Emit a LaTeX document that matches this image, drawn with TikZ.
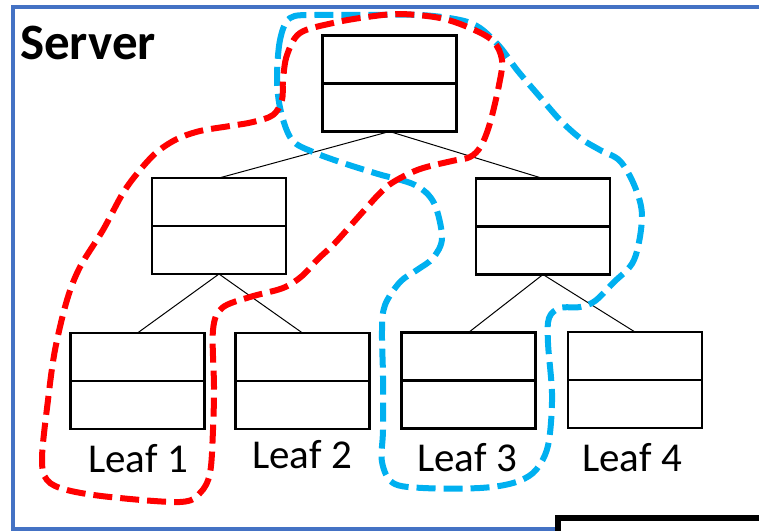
\documentclass[tikz,border=0pt]{standalone}
\usepackage{fontspec}
\setmainfont{Carlito}
\definecolor{framebl}{HTML}{4472C4}
\definecolor{grpred}{HTML}{FF0000}
\definecolor{grpblue}{HTML}{00B0F0}
\begin{document}
\begin{tikzpicture}[x=1pt,y=-1pt,
  rec/.style={draw, line width=2.3pt, minimum width=134pt, minimum height=96pt, inner sep=0pt, outer sep=0pt},
  link/.style={line width=1pt},
  leaflabel/.style={font=\fontsize{41}{41}\selectfont, inner sep=0pt, anchor=base},
  group/.style={line width=6pt, dash pattern=on 19pt off 8pt}]
\useasboundingbox (0,0) rectangle (759,530);
% server frame and neighbouring box
\draw[framebl, line width=4pt] (775,6.5) -- (12.5,6.5) -- (12.5,529) -- (560,529);
\draw[line width=6pt] (558,535) -- (558,518) -- (775,518);
\node[font=\fontsize{51}{51}\selectfont\bfseries, anchor=base west, inner sep=0pt] (srv) at (20,59) {Server};
% tree nodes
\node[rec] (root) at (389.5,83.5) {};
\node[rec] (ml) at (219,226) {};
\node[rec] (mr) at (543,226.5) {};
\node[rec] (l1) at (137.5,381) {};
\node[rec] (l2) at (302.5,381) {};
\node[rec] (l3) at (468.5,380.5) {};
\node[rec] (l4) at (635,380) {};
\foreach \n in {root,ml,mr,l1,l2,l3,l4}
  \draw[line width=2.3pt] (\n.west) -- (\n.east);
% connectors
\draw[link] (root.south) -- (ml.north);
\draw[link] (root.south) -- (mr.north);
\draw[link] (ml.south) -- (l1.north);
\draw[link] (ml.south) -- (l2.north);
\draw[link] (mr.south) -- (l3.north);
\draw[link] (mr.south) -- (l4.north);
% leaf labels
\node[leaflabel] (t1) at (138,472) {Leaf 1};
\node[leaflabel] (t2) at (302,468) {Leaf 2};
\node[leaflabel] (t3) at (467,471) {Leaf 3};
\node[leaflabel] (t4) at (632,471) {Leaf 4};
% blue group
\draw[group, grpblue] plot[smooth cycle, tension=0.55] coordinates {
  (290,18) (280,40) (277,80) (281,112) (292,140) (313,152) (343,163) (378,174)
  (415,185) (434,203) (442,238) (433,258) (417,270) (400,282) (385,305)
  (382,330) (383,377) (383,430) (382,462) (393,483) (423,488) (480,488)
  (513,483) (533,473) (545,455) (550,433) (552,393) (548,343) (549,318)
  (560,308) (580,307) (595,301) (613,283) (634,260) (642,217) (635,187)
  (620,161) (600,150) (580,138) (560,120) (540,97) (517,70) (500,47)
  (480,28) (460,20) (420,15) (360,15) (315,15)};
% red group
\draw[group, grpred] plot[smooth cycle, tension=0.55] coordinates {
  (300,33) (287,55) (283,80) (282,100) (273,115) (253,122) (230,126)
  (200,131) (177,139) (157,152) (140,170) (123,193) (103,230) (80,267)
  (67,300) (55,350) (48,400) (42,458) (47,480) (67,490) (110,497)
  (180,502) (200,493) (210,473) (213,430) (214,387) (213,330) (222,308)
  (250,297) (283,288) (302,276) (318,259) (335,243) (360,215) (381,192)
  (395,181) (420,169) (452,161) (470,157) (481,146) (490,123) (499,85)
  (502,60) (493,41) (470,28) (440,18) (400,14) (367,17) (333,23)};
\end{tikzpicture}
\end{document}
